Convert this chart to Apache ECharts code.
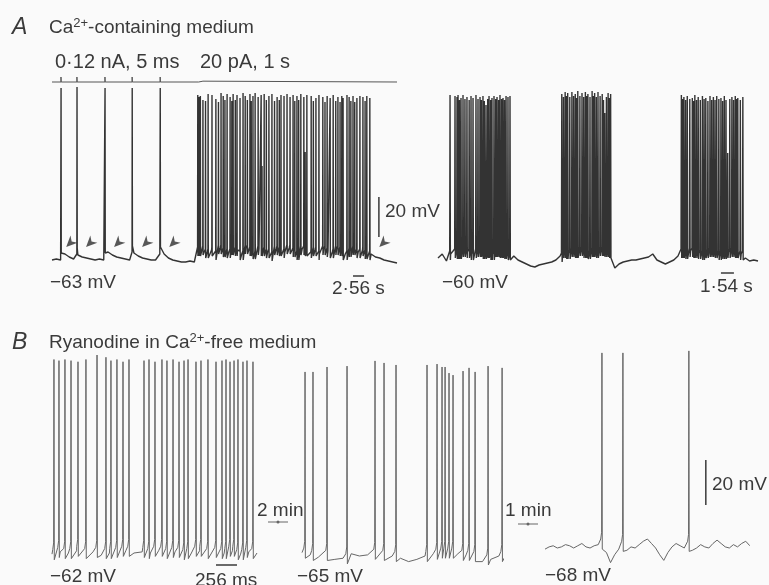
<!DOCTYPE html>
<html>
<head>
<meta charset="utf-8">
<script src="https://cdn.jsdelivr.net/npm/echarts@6/dist/echarts.min.js"></script>
<style>
html, body { margin: 0; padding: 0; background: #fafafa; }
#chart { width: 769px; height: 585px; }
</style>
</head>
<body>
<div id="chart"></div>
<script>
// ---- A, left sweep (s, mV) ----
var aLeftBaseStep = 1;
var aLeftBase = [-63, -62.5, -63, -60, -61.5, -62.5, -60.5, -61.5, -62, -62.5, -63, -62.5, -63,
  -59, -60.5, -61.5, -62, -62.5, -63, -59.5, -61, -62, -62.5, -63, -63, -60, -60, -62, -63, -63.5,
  -64, -64, -63.5, -64, -58,
  -57.5, -59, -58, -60, -57, -58.5, -59, -57.5, -58, -60, -57, -58, -59.5, -57.5, -58, -59, -60.5,
  -57.5, -58, -59, -57, -58.5, -60, -57.5, -58, -59, -58, -60, -57.5, -58.5, -59, -57.5, -58, -60,
  -58.5, -57.5, -59, -58, -59.5,
  -60, -61.5, -62, -63, -63.5, -64, -64.5];
var aLeftEvoked = [[2.1, 23], [5.8, 23.5], [12.3, 23], [18.6, 23], [25.1, 23]];
var aLeftBurst = [[33.8, 19.5], [34.1, 18.5], [34.4, 19], [35.0, 17], [35.6, 16.5], [36.2, 20],
  [37.1, 19.5], [38.0, 17.5], [38.6, 16], [39.2, 20.5], [39.7, 19], [40.1, 17], [40.6, 20],
  [41.3, 18.5], [41.7, 16.5], [42.0, 20], [42.5, 17], [42.9, 19.5], [43.6, 18], [44.3, 20.5],
  [44.8, 19], [45.3, 17], [45.9, 20], [46.2, 16.5], [46.6, 19], [47.1, 20.5], [47.8, 18.5],
  [48.5, 19.5], [48.7, -16], [49.2, 20], [49.7, 17], [50.3, 19], [51.0, 20], [51.6, 16.5],
  [52.2, 18.5], [52.7, 17], [53.1, 19.5], [53.8, 19], [54.5, 20], [55.2, 18.5], [55.9, 19.5],
  [56.3, 16.5], [56.8, 19], [57.2, 17], [57.7, 20], [58.4, 18.5], [58.7, -9], [59.1, 19.5],
  [60.1, 19], [60.6, 16.5], [61.2, 18], [61.9, 19.5], [62.8, 18.5], [63.3, 16], [63.8, 19],
  [64.5, 18], [65.2, 19.5], [65.8, 16.5], [66.3, 18.5], [66.8, 16], [67.2, 19], [67.5, 18],
  [68.4, 19.5], [68.9, 18.5], [69.3, 16.5], [69.8, 19], [70.2, 16], [70.7, 18], [71.4, 19],
  [72.1, 18.5], [72.6, 16.5], [73.0, 19], [73.7, 18]];
var aLeftArrows = [4.2, 8.8, 15.3, 21.8, 28.1, 76.8];
var stimPulses = [2.1, 5.8, 12.3, 18.6, 25.1];   // 0.12 nA, 5 ms
var stimStep = [34, 35];                          // 20 pA, 1 s

// ---- A, right sweep (s, mV) ----
var aRightBaseStep = 0.5;
var aRightBase = [-59, -57, -60.5,
  -57, -56, -56.5, -55.5, -56, -57, -56, -55.5, -56.5, -56, -57, -55.5, -56, -56.5, -57,
  -58, -60, -61, -62, -63, -63.5, -62.5, -62, -61.5, -61, -60, -58,
  -56, -56.5, -55.5, -56, -55, -56, -56.5, -55.5, -56, -55, -55.5, -56,
  -64, -62, -61, -60.5, -60, -60, -59.5, -59, -58.5, -57, -60, -61, -62, -61, -60, -58,
  -56, -56.5, -55.5, -56, -56.5, -57, -56, -55.5, -56, -57, -56.5, -56, -55.5, -56, -57,
  -59, -60.5, -60, -60.5];
var aRightSpikes = [[1.43, 22.5], [2.02, 22], [2.26, 21.5], [2.38, 22.5], [2.55, 20], [2.73, 21],
  [2.97, 22.5], [3.2, 20.5], [3.44, 21.5], [3.7, 20], [3.92, 22], [4.16, 21], [4.51, 22.5],
  [4.75, 20.5], [4.99, 21.5], [5.15, 20], [5.34, 22], [5.5, 19.5], [5.70, 17.5], [5.9, 20.5],
  [6.06, 22], [6.25, 20], [6.41, 21], [6.65, 22], [6.85, 20.5], [7.01, 21.5], [7.2, 20],
  [7.36, 22.5], [7.55, 20.5], [7.72, 21], [7.9, 20], [8.08, 22], [8.31, 21.5], [8.55, 22],
  [14.7, 23], [14.9, 21.5], [15.1, 24], [15.25, 22], [15.4, 23.5], [15.65, 21.5], [15.9, 24],
  [16.1, 22], [16.3, 23], [16.45, 21], [16.6, 24.5], [16.85, 22], [17.1, 23.5], [17.3, 21.5],
  [17.5, 24], [17.65, 22], [17.8, 23], [18.05, 21.5], [18.3, 24.5], [18.45, 22], [18.6, 23.5],
  [18.8, 21.5], [19.0, 24], [19.25, 22], [19.5, 23], [19.65, 20], [19.8, 13.5], [20.0, 21.5],
  [20.2, 23.5], [20.35, 21], [20.5, 23],
  [28.9, 22.5], [29.05, 20.5], [29.2, 21.5], [29.4, 20], [29.6, 22], [29.9, 20.5], [30.2, 21],
  [30.35, 19.5], [30.5, 22.5], [30.7, 20], [30.9, 21.5], [31.15, 20], [31.4, 22], [31.6, 20.5],
  [31.8, 21], [32.05, 19.5], [32.3, 22], [32.5, 20], [32.7, 21.5], [32.9, 20], [33.1, 22],
  [33.35, 20.5], [33.6, 21], [33.8, 19.5], [34.0, 22], [34.2, 20], [34.4, -6.5], [34.65, 20.5],
  [34.9, 21.5], [35.1, 20], [35.3, 22], [35.45, 20.5], [35.6, 21], [35.9, 20], [36.2, 21.5]];

// ---- B, ryanodine (ms, mV) ----
var bBaseStep = 100;
var b1Base = [-62.5, -61.5, -62, -61, -62, -61.5, -63, -62, -61.5, -61, -62, -61.5, -62, -61, -62,
  -61.5, -62.5, -62, -61, -62, -61.5, -62, -61, -62.5, -61.5, -62];
var b1Spikes = [[24, 24], [85, 23.5], [158, 24], [232, 23.5], [317, 23], [414, 24], [549, 26],
  [658, 25], [719, 23.5], [792, 24], [866, 23], [939, 24], [1122, 23.5], [1183, 24], [1256, 23],
  [1341, 24], [1402, 23.5], [1476, 24], [1549, 23], [1610, 23.5], [1659, 24], [1756, 23],
  [1817, 23.5], [1902, 24], [2000, 23], [2073, 23.5], [2122, 24], [2171, 23], [2220, 23.5],
  [2268, 24], [2329, 23], [2378, 23.5], [2451, 23]];
var b2Base = [-63.5, -64.5, -65.5, -64.5, -66.5, -66, -64, -65, -64.5, -64, -64.5, -65, -66, -67.5,
  -66.5, -65, -64, -63.5, -63.5, -64, -64.5, -65, -67.5, -66.5, -65, -63.5];
var b2Spikes = [[37, 16.8], [134, 16.8], [305, 19], [549, 19.4], [890, 21.7], [1000, 20.8],
  [1146, 19.9], [1524, 19.9], [1646, 20.3], [1707, 19], [1744, 19], [1792, 16.3], [1841, 15.4],
  [1963, 17.2], [2036, 18.6], [2110, 16.8], [2268, 19.4], [2439, 18.6]];
var b3BaseStep = 50;
var b3Base = [-68.5, -67.5, -67, -68, -67.5, -66.5, -67, -68, -67, -66, -67.5, -68, -67, -66.5,
  -66, -70, -74.5, -71, -68.5, -67, -69, -67.5, -68, -66.5, -65, -64, -66, -68, -71, -73.5, -70,
  -67.5, -66, -67, -68, -67, -69, -68, -66.5, -67.5, -68, -66, -64.5, -66, -67.5, -68, -66.5,
  -67.5, -66, -65, -67];
var b3Spikes = [[695, 18.7], [951, 18.7], [1756, 19.6]];

var shapeA = { pre: [[-0.04, 1.5]], post: [[0.04, -3]] };
var shapeEvoked = { pre: [[-0.04, 0.5]], post: [[0.05, 3.5]] };
var shapeB = { pre: [[-15, 2], [-4, 5]], post: [[4, -2.5], [14, -3]] };

function buildTrace(base, step, spikeSets) {
  var pts = [];
  base.forEach(function (v, i) {
    var t = i * step;
    var hit = spikeSets.some(function (set) {
      var lo = set.shape.pre[0][0], hi = set.shape.post[set.shape.post.length - 1][0];
      return set.spikes.some(function (s) { return t >= s[0] + lo && t <= s[0] + hi; });
    });
    if (!hit) pts.push([t, v]);
  });
  spikeSets.forEach(function (set) {
    set.spikes.forEach(function (s) {
      var vb = base[Math.min(base.length - 1, Math.round(s[0] / step))];
      set.shape.pre.forEach(function (p) { pts.push([s[0] + p[0], vb + p[1]]); });
      pts.push([s[0], s[1]]);
      set.shape.post.forEach(function (p) { pts.push([s[0] + p[0], vb + p[1]]); });
    });
  });
  pts.sort(function (a, b) { return a[0] - b[0]; });
  return pts;
}

function buildStim() {
  var pts = [[0, 0]];
  stimPulses.forEach(function (t) {
    pts.push([t - 0.02, 0], [t - 0.02, 120], [t + 0.02, 120], [t + 0.02, 0]);
  });
  pts.push([stimStep[0], 0], [stimStep[0], 20], [stimStep[1], 20], [stimStep[1], 0], [80, 0]);
  return pts;
}

var aLeftData = buildTrace(aLeftBase, aLeftBaseStep, [
  { spikes: aLeftEvoked, shape: shapeEvoked },
  { spikes: aLeftBurst, shape: shapeA }
]);
var aRightData = buildTrace(aRightBase, aRightBaseStep, [{ spikes: aRightSpikes, shape: shapeA }]);
var b1Data = buildTrace(b1Base, bBaseStep, [{ spikes: b1Spikes, shape: shapeB }]);
var b2Data = buildTrace(b2Base, bBaseStep, [{ spikes: b2Spikes, shape: shapeB }]);
var b3Data = buildTrace(b3Base, b3BaseStep, [{ spikes: b3Spikes, shape: shapeB }]);

var FONT = '"Liberation Sans", Arial, Helvetica, sans-serif';
var INK = '#3a3a3a';

function trace(data, idx, color, width) {
  return {
    type: 'line', data: data, xAxisIndex: idx, yAxisIndex: idx,
    showSymbol: false, animation: false, silent: true,
    lineStyle: { color: color, width: width || 1 }
  };
}
function bar(data, idx) {
  return {
    type: 'line', data: data, xAxisIndex: idx, yAxisIndex: idx,
    showSymbol: false, animation: false, silent: true,
    lineStyle: { color: INK, width: 1.5 }
  };
}
function label(text, x, y, size, extra) {
  var st = { text: text, x: x, y: y, fontSize: size || 19, fontFamily: FONT, fill: INK,
    align: 'left', verticalAlign: 'middle', textAlign: 'left', textVerticalAlign: 'middle' };
  if (extra) for (var k in extra) st[k] = extra[k];
  return { type: 'text', style: st, silent: true };
}
function ax(min, max) { return { type: 'value', min: min, max: max, show: false }; }
var supRich = {
  n: { fontSize: 19, fontFamily: FONT, lineHeight: 22 },
  s: { fontSize: 13, fontFamily: FONT, lineHeight: 13, verticalAlign: 'top' }
};

var chart = echarts.init(document.getElementById('chart'), null, { renderer: 'canvas' });
chart.setOption({
  backgroundColor: '#fafafa',
  grid: [
    { left: 52, top: 80, width: 345, height: 200 },    // A left
    { left: 52, top: 72, width: 345, height: 12 },     // A stimulus
    { left: 438, top: 80, width: 320, height: 200 },   // A right
    { left: 52, top: 340, width: 205, height: 240 },   // B1
    { left: 302, top: 340, width: 201, height: 240 },  // B2
    { left: 545, top: 340, width: 204, height: 240 }   // B3
  ],
  xAxis: [
    Object.assign(ax(0, 80), { gridIndex: 0 }),
    Object.assign(ax(0, 80), { gridIndex: 1 }),
    Object.assign(ax(0, 38), { gridIndex: 2 }),
    Object.assign(ax(0, 2500), { gridIndex: 3 }),
    Object.assign(ax(0, 2450), { gridIndex: 4 }),
    Object.assign(ax(0, 2490), { gridIndex: 5 })
  ],
  yAxis: [
    Object.assign(ax(-73, 27), { gridIndex: 0 }),
    Object.assign(ax(-48, 240), { gridIndex: 1 }),
    Object.assign(ax(-70, 30), { gridIndex: 2 }),
    Object.assign(ax(-74, 32.67), { gridIndex: 3 }),
    Object.assign(ax(-75.67, 31), { gridIndex: 4 }),
    Object.assign(ax(-82.22, 24.44), { gridIndex: 5 })
  ],
  series: [
    trace(aLeftData, 0, '#333', 1.4),
    trace(buildStim(), 1, '#555'),
    trace(aRightData, 2, '#333', 1.4),
    trace(b1Data, 3, '#666'),
    trace(b2Data, 4, '#666'),
    trace(b3Data, 5, '#666'),
    bar([[75.8, -51.5], [75.8, -31.5]], 0),
    bar([[69.8, -71], [72.36, -71]], 0),
    bar([[33.6, -66.5], [35.14, -66.5]], 2),
    bar([[2000, -67.3], [2256, -67.3]], 3),
    bar([[1963, -48.9], [1963, -28.9]], 5),
    {
      type: 'scatter', xAxisIndex: 0, yAxisIndex: 0, silent: true, animation: false,
      data: aLeftArrows.map(function (t) { return [t, -54.5]; }),
      symbol: 'path://M0,0 L10,5 L0,10 L3,5 Z', symbolSize: [11, 10], symbolRotate: 225,
      itemStyle: { color: '#2e2e2e' }
    }
  ],
  graphic: [
    label('A', 12, 28, 23, { fontStyle: 'italic' }),
    label('{n|Ca}{s|2+}{n|-containing medium}', 49, 28, 19, { rich: supRich }),
    label('0·12 nA, 5 ms', 55, 62, 20),
    label('20 pA, 1 s', 200, 62, 20),
    label('20 mV', 385, 212),
    label('−63 mV', 50, 283),
    label('2·56 s', 332, 289),
    label('−60 mV', 442, 283),
    label('1·54 s', 700, 287),
    label('B', 12, 343, 23, { fontStyle: 'italic' }),
    label('{n|Ryanodine in Ca}{s|2+}{n|-free medium}', 49, 343, 19, { rich: supRich }),
    label('2 min', 257, 511),
    label('1 min', 505, 511),
    label('20 mV', 712, 485),
    label('−62 mV', 50, 577),
    label('256 ms', 195, 581),
    label('−65 mV', 297, 577),
    label('−68 mV', 545, 576),
    { type: 'line', shape: { x1: 268, y1: 522, x2: 288, y2: 522 }, style: { stroke: '#666', lineWidth: 1 }, silent: true },
    { type: 'circle', shape: { cx: 278, cy: 522, r: 1.5 }, style: { fill: '#666' }, silent: true },
    { type: 'line', shape: { x1: 518, y1: 524, x2: 538, y2: 524 }, style: { stroke: '#666', lineWidth: 1 }, silent: true },
    { type: 'circle', shape: { cx: 528, cy: 524, r: 1.5 }, style: { fill: '#666' }, silent: true }
  ]
});
window.addEventListener('resize', function () { chart.resize(); });
</script>
</body>
</html>
